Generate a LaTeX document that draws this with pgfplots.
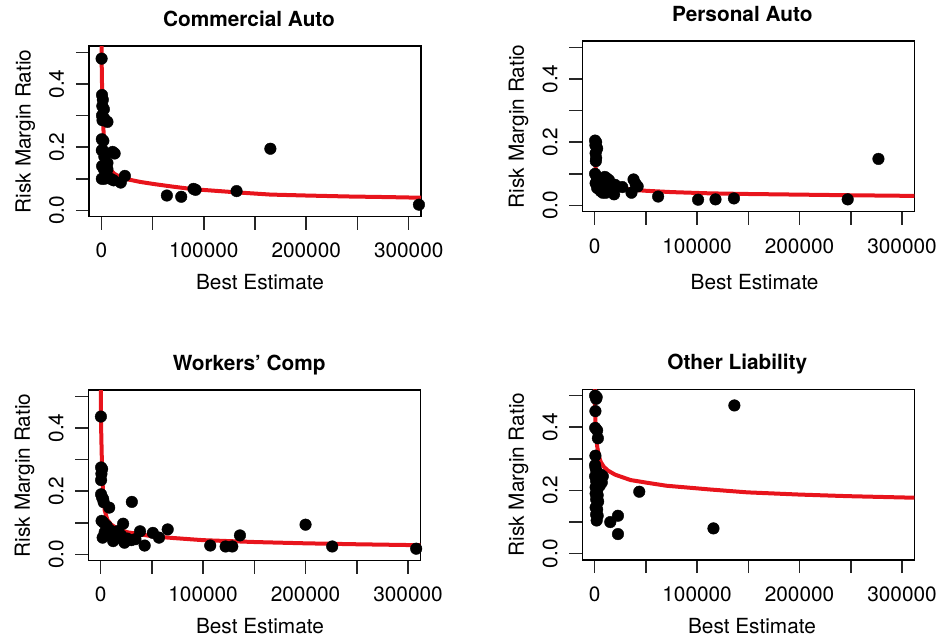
\documentclass[border=0pt]{standalone}
\usepackage{fontspec}
\setmainfont{TeX Gyre Heros}
\usepackage{pgfplots}
\pgfplotsset{compat=1.18}
\definecolor{rred}{RGB}{232,20,28}
\pgfplotsset{
  rplot/.style={
    scale only axis, width=332pt, height=170.7pt,
    xmin=-12000, xmax=312000, ymin=-0.02, ymax=0.52,
    clip=true,
    axis line style={line width=1.5pt},
    xtick={0,50000,100000,150000,200000,250000,300000},
    xticklabels={0,,100000,,200000,,300000},
    ytick={0,0.1,0.2,0.3,0.4,0.5},
    yticklabels={0.0,,0.2,,0.4,},
    scaled x ticks=false, scaled y ticks=false,
    tick pos=left, tick align=outside, major tick length=13pt,
    major tick style={line width=1.5pt, black!85},
    xticklabel style={anchor=base, inner sep=0pt},
    yticklabel style={rotate=90, anchor=base, inner sep=0pt},
    xticklabel shift=28pt, yticklabel shift=12pt,
    xlabel={Best Estimate}, ylabel={Risk Margin Ratio},
    ylabel style={at={(axis description cs:-0.176,0.5)}, anchor=base},
    title style={font=\bfseries, at={(axis description cs:0.5,1)}, anchor=base, yshift=13.5pt},
    anchor=south west,
  },
  pts/.style={only marks, mark=*, mark size=5.8pt, black, mark options={fill=black, draw=black}},
  fit/.style={rred, line width=4pt, no markers, line join=round},
}
\begin{document}
\fontsize{20.8}{25}\selectfont
\begin{tikzpicture}
\path[use as bounding box] (0,0) rectangle (936pt,638pt);

% Commercial Auto
\begin{axis}[rplot, at={(89pt,421.3pt)},
  title={Commercial Auto}, title style={xshift=-6pt},
  xlabel style={at={(axis description cs:0.515,-0.428)}, anchor=base}]
\addplot[pts] coordinates {
(300,0.48) (700,0.365) (1500,0.35) (1000,0.33) (2500,0.32) (700,0.30) (1200,0.285)
(3000,0.29) (6000,0.28) (500,0.225) (2000,0.22) (500,0.19) (1500,0.19) (11000,0.185)
(13000,0.18) (3000,0.17) (6000,0.15) (800,0.14) (2500,0.13) (6000,0.13) (500,0.10) (3000,0.10)
(9000,0.10) (12000,0.095) (19000,0.088) (23000,0.109) (64000,0.047) (78000,0.043)
(90000,0.068) (92000,0.065) (132000,0.061) (165000,0.195) (310000,0.018)
};
\addplot[fit] coordinates {
(200,0.53) (300,0.50) (450,0.45) (700,0.40) (1000,0.36) (1400,0.31) (2000,0.26)
(2800,0.22) (3600,0.19) (5000,0.163) (6800,0.142) (9000,0.128) (13000,0.115)
(19000,0.105) (26000,0.098) (38000,0.09) (52000,0.083) (70000,0.075) (90000,0.067)
(132000,0.057) (165000,0.05) (200000,0.047) (240000,0.044) (280000,0.042) (312000,0.040)
};
\end{axis}

% Personal Auto
\begin{axis}[rplot, at={(582.3pt,426.3pt)},
  title={Personal Auto}, title style={xshift=-6pt},
  xticklabel shift=29pt,
  xlabel style={at={(axis description cs:0.519,-0.457)}, anchor=base}]
\addplot[pts] coordinates {
(500,0.205) (1500,0.20) (800,0.19) (2500,0.18) (1000,0.165) (1500,0.15) (1200,0.14)
(500,0.10) (2000,0.09) (3000,0.08) (1000,0.07) (4000,0.065) (2500,0.055) (5000,0.05)
(6000,0.045) (8000,0.04) (10000,0.09) (12000,0.085) (14000,0.08) (15000,0.07) (16000,0.06)
(18000,0.05) (19000,0.035) (9000,0.045) (11000,0.04) (13000,0.055) (20000,0.065)
(27000,0.058) (36000,0.04) (38000,0.082) (40000,0.068) (42000,0.06) (62000,0.028)
(101000,0.018) (118000,0.019) (136000,0.022) (247000,0.019) (277000,0.147)
};
\addplot[fit] coordinates {
(300,0.165) (600,0.14) (1000,0.12) (2000,0.10) (3500,0.088) (6000,0.079) (9000,0.07)
(12000,0.065) (19000,0.059) (26000,0.054) (38000,0.049) (51000,0.046) (75000,0.042)
(113000,0.038) (150000,0.036) (200000,0.034) (250000,0.032) (312000,0.030)
};
\end{axis}

% Workers' Comp
\begin{axis}[rplot, at={(88.3pt,77.3pt)},
  title={Workers’ Comp}, title style={xshift=-5pt},
  xlabel style={at={(axis description cs:0.517,-0.424)}, anchor=base}]
\addplot[pts] coordinates {
(300,0.436) (500,0.275) (1500,0.27) (800,0.255) (500,0.235) (500,0.19) (1500,0.18)
(2500,0.175) (3000,0.165) (8400,0.148) (30500,0.166) (1000,0.106) (3000,0.10) (6000,0.09)
(2000,0.053) (4000,0.07) (8000,0.06) (10000,0.075) (12300,0.042) (14000,0.05) (17200,0.074)
(20000,0.06) (22000,0.097) (23300,0.037) (26000,0.05) (30000,0.045) (34000,0.048)
(38500,0.073) (43000,0.028) (51000,0.068) (57000,0.053) (65500,0.079) (107000,0.028)
(122000,0.025) (128500,0.025) (136000,0.06) (200000,0.094) (226000,0.025) (308000,0.018)
};
\addplot[fit] coordinates {
(150,0.53) (250,0.48) (400,0.43) (650,0.38) (1000,0.33) (1600,0.25) (2600,0.185)
(4000,0.14) (6500,0.11) (10000,0.095) (17000,0.08) (26000,0.07) (38000,0.064)
(51000,0.057) (70000,0.052) (87000,0.048) (100000,0.045) (151000,0.039) (200000,0.035)
(250000,0.032) (312000,0.029)
};
\end{axis}

% Other Liability
\begin{axis}[rplot, at={(582.3pt,78pt)},
  title={Other Liability}, title style={xshift=-11pt},
  xlabel style={at={(axis description cs:0.511,-0.43)}, anchor=base}]
\addplot[pts] coordinates {
(500,0.50) (2000,0.495) (1500,0.49) (800,0.451) (600,0.398) (2500,0.39) (3200,0.365)
(800,0.31) (500,0.28) (1000,0.27) (2000,0.26) (3000,0.25) (500,0.245) (4000,0.24)
(6000,0.25) (8000,0.245) (1500,0.23) (3000,0.225) (7000,0.225) (5000,0.215) (1000,0.21)
(2500,0.20) (1000,0.19) (3000,0.185) (1500,0.172) (3500,0.165) (1000,0.146) (2500,0.14)
(1500,0.124) (3000,0.12) (2000,0.105) (15300,0.10) (22800,0.12) (22800,0.062)
(43600,0.196) (116000,0.08) (136400,0.469)
};
\addplot[fit] coordinates {
(150,0.53) (300,0.48) (500,0.45) (1000,0.40) (1600,0.37) (2500,0.34) (4000,0.31)
(6000,0.29) (9000,0.275) (13000,0.263) (20000,0.25) (35000,0.233) (50000,0.225)
(70000,0.215) (113000,0.203) (149000,0.194) (200000,0.187) (247000,0.182) (312000,0.177)
};
\end{axis}
\end{tikzpicture}
\end{document}
